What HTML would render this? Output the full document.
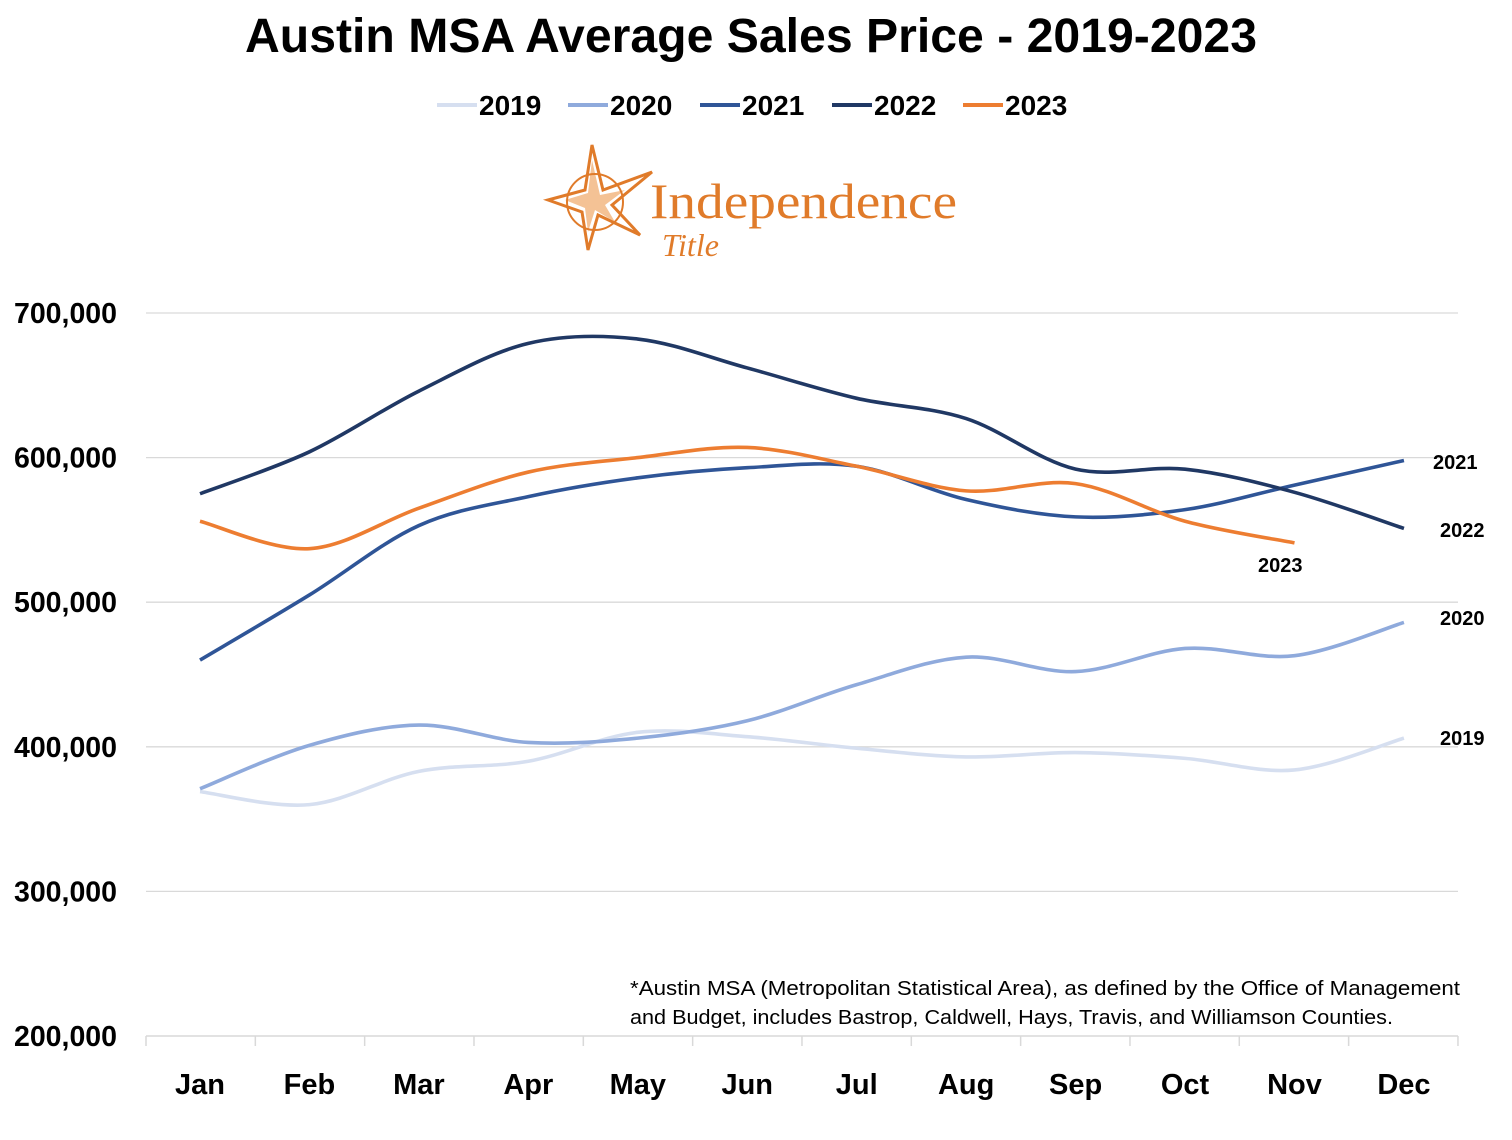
<!DOCTYPE html>
<html><head><meta charset="utf-8"><style>
html,body{margin:0;padding:0;background:#fff;}
body{width:1512px;height:1135px;overflow:hidden;font-family:"Liberation Sans",sans-serif;}
</style></head><body>
<svg id="chart" width="1512" height="1135" viewBox="0 0 1512 1135" xmlns="http://www.w3.org/2000/svg">
<text x="245" y="52" textLength="1012" lengthAdjust="spacingAndGlyphs" font-family="Liberation Sans, sans-serif" font-weight="bold" font-size="48" fill="#000">Austin MSA Average Sales Price - 2019-2023</text>
<g id="legend"></g>
<g id="logo">
<polygon points="592,145 603,190 652,172 612,205 640,235 598,215 588,250 582,212 548,200 585,190" fill="none" stroke="#e07b2a" stroke-width="3"/>
<polygon points="592,160 600,195 625,190 605,205 615,222 595,210 588,232 585,208 565,200 588,193" fill="#f0a868" opacity="0.7"/>
<circle cx="595" cy="202" r="28" fill="none" stroke="#e07b2a" stroke-width="2"/>
<text x="650" y="218" textLength="307" lengthAdjust="spacingAndGlyphs" font-family="Liberation Serif, serif" font-size="50" fill="#e07b2a">Independence</text>
<text x="662" y="256" font-family="Liberation Serif, serif" font-style="italic" font-size="32" fill="#e07b2a">Title</text>
</g>
<g id="grid"></g><g id="axes"></g><g id="series"></g><g id="labels"></g>
<text font-family="Liberation Sans, sans-serif" font-size="20" fill="#000"><tspan x="630" y="995" textLength="830" lengthAdjust="spacingAndGlyphs">*Austin MSA (Metropolitan Statistical Area), as defined by the Office of Management</tspan><tspan x="630" y="1024" textLength="763" lengthAdjust="spacingAndGlyphs">and Budget, includes Bastrop, Caldwell, Hays, Travis, and Williamson Counties.</tspan></text>
</svg>
<script>
const months=["Jan","Feb","Mar","Apr","May","Jun","Jul","Aug","Sep","Oct","Nov","Dec"];
const yTicks=[200000,300000,400000,500000,600000,700000];
const years=["2019","2020","2021","2022","2023"];
const colors=["#d6dff0","#8faadc","#2f5597","#203864","#ed7d31"];
const s2019=[369000,360000,383000,390000,410000,407000,399000,393000,396000,392000,384000,406000];
const s2020=[371000,401000,415000,403000,406000,418000,443000,462000,452000,468000,463000,486000];
const s2021=[460000,505000,553000,573000,586000,593000,594000,571000,559000,564000,581000,598000];
const s2022=[575000,604000,646000,679000,682000,662000,641000,627000,592000,592000,576000,551000];
const s2023=[556000,537000,565000,590000,600000,607000,594000,577000,582000,556000,541000];
const seriesList=[s2019,s2020,s2021,s2022,s2023];
const NS="http://www.w3.org/2000/svg";
function X(i){return 200+i*109.45;}
function Y(v){return 1036-(v-200000)*0.001446;}
function mk(t,a,p){const e=document.createElementNS(NS,t);for(const k in a)e.setAttribute(k,a[k]);p.appendChild(e);return e;}
const grid=document.getElementById('grid'),axes=document.getElementById('axes'),ser=document.getElementById('series'),lab=document.getElementById('labels'),leg=document.getElementById('legend');
yTicks.forEach(v=>{
 if(v>200000){const l=mk('line',{x1:146,x2:1458,y1:Y(v),y2:Y(v),stroke:'#d9d9d9','stroke-width':1.3},grid);
 
 }
 const t=mk('text',{x:117,y:Y(v)+10,'text-anchor':'end','font-weight':'bold','font-size':28.5,fill:'#000'},axes);
 t.textContent=v.toLocaleString('en-US');
 
 
});
const ax=mk('line',{x1:146,x2:1458,y1:1036,y2:1036,stroke:'#d9d9d9','stroke-width':1.5},axes);


for(let i=0;i<=12;i++){mk('line',{x1:146+i*109.33,x2:146+i*109.33,y1:1036,y2:1046,stroke:'#d9d9d9','stroke-width':1.5},axes);}
months.forEach((m,i)=>{const t=mk('text',{x:X(i),y:1094,'text-anchor':'middle','font-weight':'bold','font-size':29,fill:'#000'},axes);t.textContent=m;
 
 });
function path(vals){const p=vals.map((v,i)=>[X(i),Y(v)]);let d='M'+p[0][0]+','+p[0][1];
 for(let i=0;i<p.length-1;i++){const p0=p[i-1]||p[i],p1=p[i],p2=p[i+1],p3=p[i+2]||p2;
 const c1=[p1[0]+(p2[0]-p0[0])/6,p1[1]+(p2[1]-p0[1])/6],c2=[p2[0]-(p3[0]-p1[0])/6,p2[1]-(p3[1]-p1[1])/6];
 d+=' C'+c1+' '+c2+' '+p2;}return d;}
seriesList.forEach((s,k)=>{const e=mk('path',{d:path(s),fill:'none',stroke:colors[k],'stroke-width':3.6},ser);
 
 });
const endLabels=[[1440,745,0],[1440,625,1],[1433,469,2],[1440,537,3],[1258,572,4]];
endLabels.forEach(([x,y,k])=>{const t=mk('text',{x:x,y:y,'font-weight':'bold','font-size':20,fill:'#000'},lab);t.textContent=years[k];
 
 });
const lx=[437,568,700,832,963];
years.forEach((y,k)=>{const g=mk('g',{},leg);
 
 
 mk('line',{x1:lx[k],x2:lx[k]+40,y1:105,y2:105,stroke:colors[k],'stroke-width':4},g);
 const t=mk('text',{x:lx[k]+42,y:115,'font-weight':'bold','font-size':28,fill:'#000'},g);t.textContent=y;});
</script>
</body></html>
